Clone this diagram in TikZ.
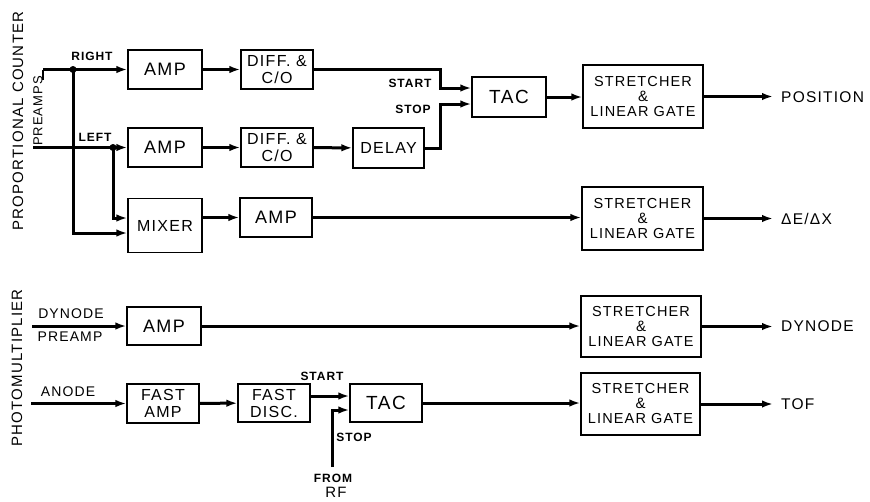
\documentclass[tikz,border=0pt]{standalone}
\usepackage{fontspec}
\setmainfont{Liberation Sans}[LetterSpace=8]
\usetikzlibrary{arrows.meta,calc}
\newcommand\fsz[1]{\fontsize{#1}{#1}\selectfont}
\newcommand\stxt{STRETCHER\\{\fontsize{15}{15}\selectfont\&}\\LINEAR GATE}
\begin{document}
\begin{tikzpicture}[x=1pt,y=-1pt,
  box/.style={draw,line width=1.2pt,inner sep=0pt,align=center,font=\fsz{16}},
  sbox/.style={box,minimum width=73,minimum height=39},
  stbox/.style={box,minimum width=120,minimum height=62,font=\fontsize{14.5}{15}\selectfont},
  conn/.style={line width=3pt},
  arr/.style={conn,-{Latex[length=11pt,width=7.5pt]}},
  lbl/.style={inner sep=0pt,font=\bfseries\fsz{12}},
  mlbl/.style={inner sep=0pt,font=\fsz{14}},
  olbl/.style={inner sep=0pt,anchor=west,font=\fsz{15.5}},
  side/.style={inner sep=0pt,rotate=90,font=\fsz{15}},
  dot/.style={fill=black}
]
\useasboundingbox (0,0) rectangle (870,501);

% boxes
\node[sbox,minimum width=74,font=\fsz{18}] (ampR) at (165,69.5) {AMP};
\node[sbox,minimum width=72] (diffR) at (277,69.5) {DIFF. \&\\[1pt]C/O};
\node[sbox,minimum width=74,font=\fsz{18}] (ampL) at (165,147.5) {AMP};
\node[sbox,minimum width=72] (diffL) at (277,147.5) {DIFF. \&\\[1pt]C/O};
\node[sbox,minimum width=71,minimum height=40] (delay) at (388.5,148) {DELAY};
\node[sbox,minimum width=74,minimum height=40,font=\fsz{19}] (tac1) at (509,97) {TAC};
\node[stbox,minimum width=120,minimum height=63] (st1) at (643,96.5) {\stxt};
\node[sbox,minimum width=74,minimum height=54] (mixer) at (165,225.5) {MIXER};
\node[sbox,minimum width=72,font=\fsz{18}] (amp3) at (276,217.5) {AMP};
\node[stbox,minimum width=121,minimum height=63] (st2) at (642.5,218.5) {\stxt};
\node[sbox,minimum width=74,minimum height=38,font=\fsz{18}] (amp4) at (164,326) {AMP};
\node[stbox,minimum width=120,minimum height=61] (st3) at (641,326.5) {\stxt};
\node[sbox,minimum width=72] (famp) at (163,403.5) {FAST\\[1pt]AMP};
\node[sbox,minimum width=72,minimum height=38] (fdisc) at (274,403) {FAST\\[1pt]DISC.};
\node[sbox,minimum width=72,minimum height=38,font=\fsz{19}] (tac2) at (386,403) {TAC};
\node[stbox,minimum width=119,minimum height=62] (st4) at (640.5,404) {\stxt};

% coordinates
\coordinate (inR) at (43,69.5);
\coordinate (tick) at (43,80);
\coordinate (jR) at (73,69.5);
\coordinate (inL) at (33,147.5);
\coordinate (jL) at (113,147.5);
\coordinate (kS) at (440,69.5);
\coordinate (kP) at (440,148);
\coordinate (out1) at (773,96.5);
\coordinate (out2) at (773,218.5);
\coordinate (out3) at (773,326.5);
\coordinate (out4) at (773,404);
\coordinate (inD) at (32,326);
\coordinate (inA) at (31,403.5);
\coordinate (rf) at (332,467);

% connectors
\draw[arr] (inR) -- (inR -| ampR.west);
\draw[line width=1.6pt] (inR) -- (tick);
\fill[dot] (jR) circle (3.5pt);
\draw[arr] (jR) |- ($(mixer.west)+(0,7.5)$);
\draw[arr] (inL) -- (inL -| ampL.west);
\fill[dot] (jL) circle (3.5pt);
\draw[arr] (jL) |- ($(mixer.west)+(0,-7.5)$);
\draw[arr] (ampR) -- (diffR);
\draw[arr] (ampL) -- (diffL);
\draw[arr] (diffL) -- (delay);
\draw[arr] (diffR.east) -- (kS) |- ($(tac1.west)+(0,-9)$);
\draw[arr] (delay.east) -- (kP) |- ($(tac1.west)+(0,7)$);
\draw[arr] (tac1) -- (tac1 -| st1.west);
\draw[arr] (st1) -- (out1);
\draw[arr] (mixer.east |- amp3.west) -- (amp3.west);
\draw[arr] (amp3) -- (amp3 -| st2.west);
\draw[arr] (st2) -- (out2);
\draw[arr] (inD) -- (amp4);
\draw[arr] (amp4) -- (amp4 -| st3.west);
\draw[arr] (st3) -- (out3);
\draw[arr] (inA) -- (famp);
\draw[arr] (famp) -- (fdisc);
\draw[arr] ($(fdisc.east)+(0,-7)$) -- ($(tac2.west)+(0,-7)$);
\draw[arr] (rf) |- ($(tac2.west)+(0,7)$);
\draw[arr] (tac2) -- (tac2 -| st4.west);
\draw[arr] (st4) -- (out4);

% labels
\node[lbl] (lRight) at (92,56) {RIGHT};
\node[lbl] (lLeft) at (95,137) {LEFT};
\node[lbl] (lStart1) at (410,83) {START};
\node[lbl] (lStop1) at (413,109) {STOP};
\node[lbl] (lStart2) at (322,376) {START};
\node[lbl] (lStop2) at (354,437) {STOP};
\node[lbl] (lFrom) at (333,478) {FROM};
\node[inner sep=0pt,font=\fsz{15}] (lRF) at (336,492) {RF};
\node[mlbl] (lDyn) at (71,314) {DYNODE};
\node[mlbl] (lPre) at (70,337) {PREAMP};
\node[mlbl] (lAn) at (68,392) {ANODE};
\node[olbl] (oPos) at (781,97) {POSITION};
\node[olbl] (oDE) at (781,218.5) {ΔE/ΔX};
\node[olbl] (oDyn) at (781,326.5) {DYNODE};
\node[olbl] (oTOF) at (781,404) {TOF};
\node[side] (sPC) at (18,121) {PROPORTIONAL COUNTER};
\node[side,font=\fsz{13}] (sPre) at (38,111) {PREAMPS};
\node[side] (sPM) at (17,368) {PHOTOMULTIPLIER};
\end{tikzpicture}
\end{document}
